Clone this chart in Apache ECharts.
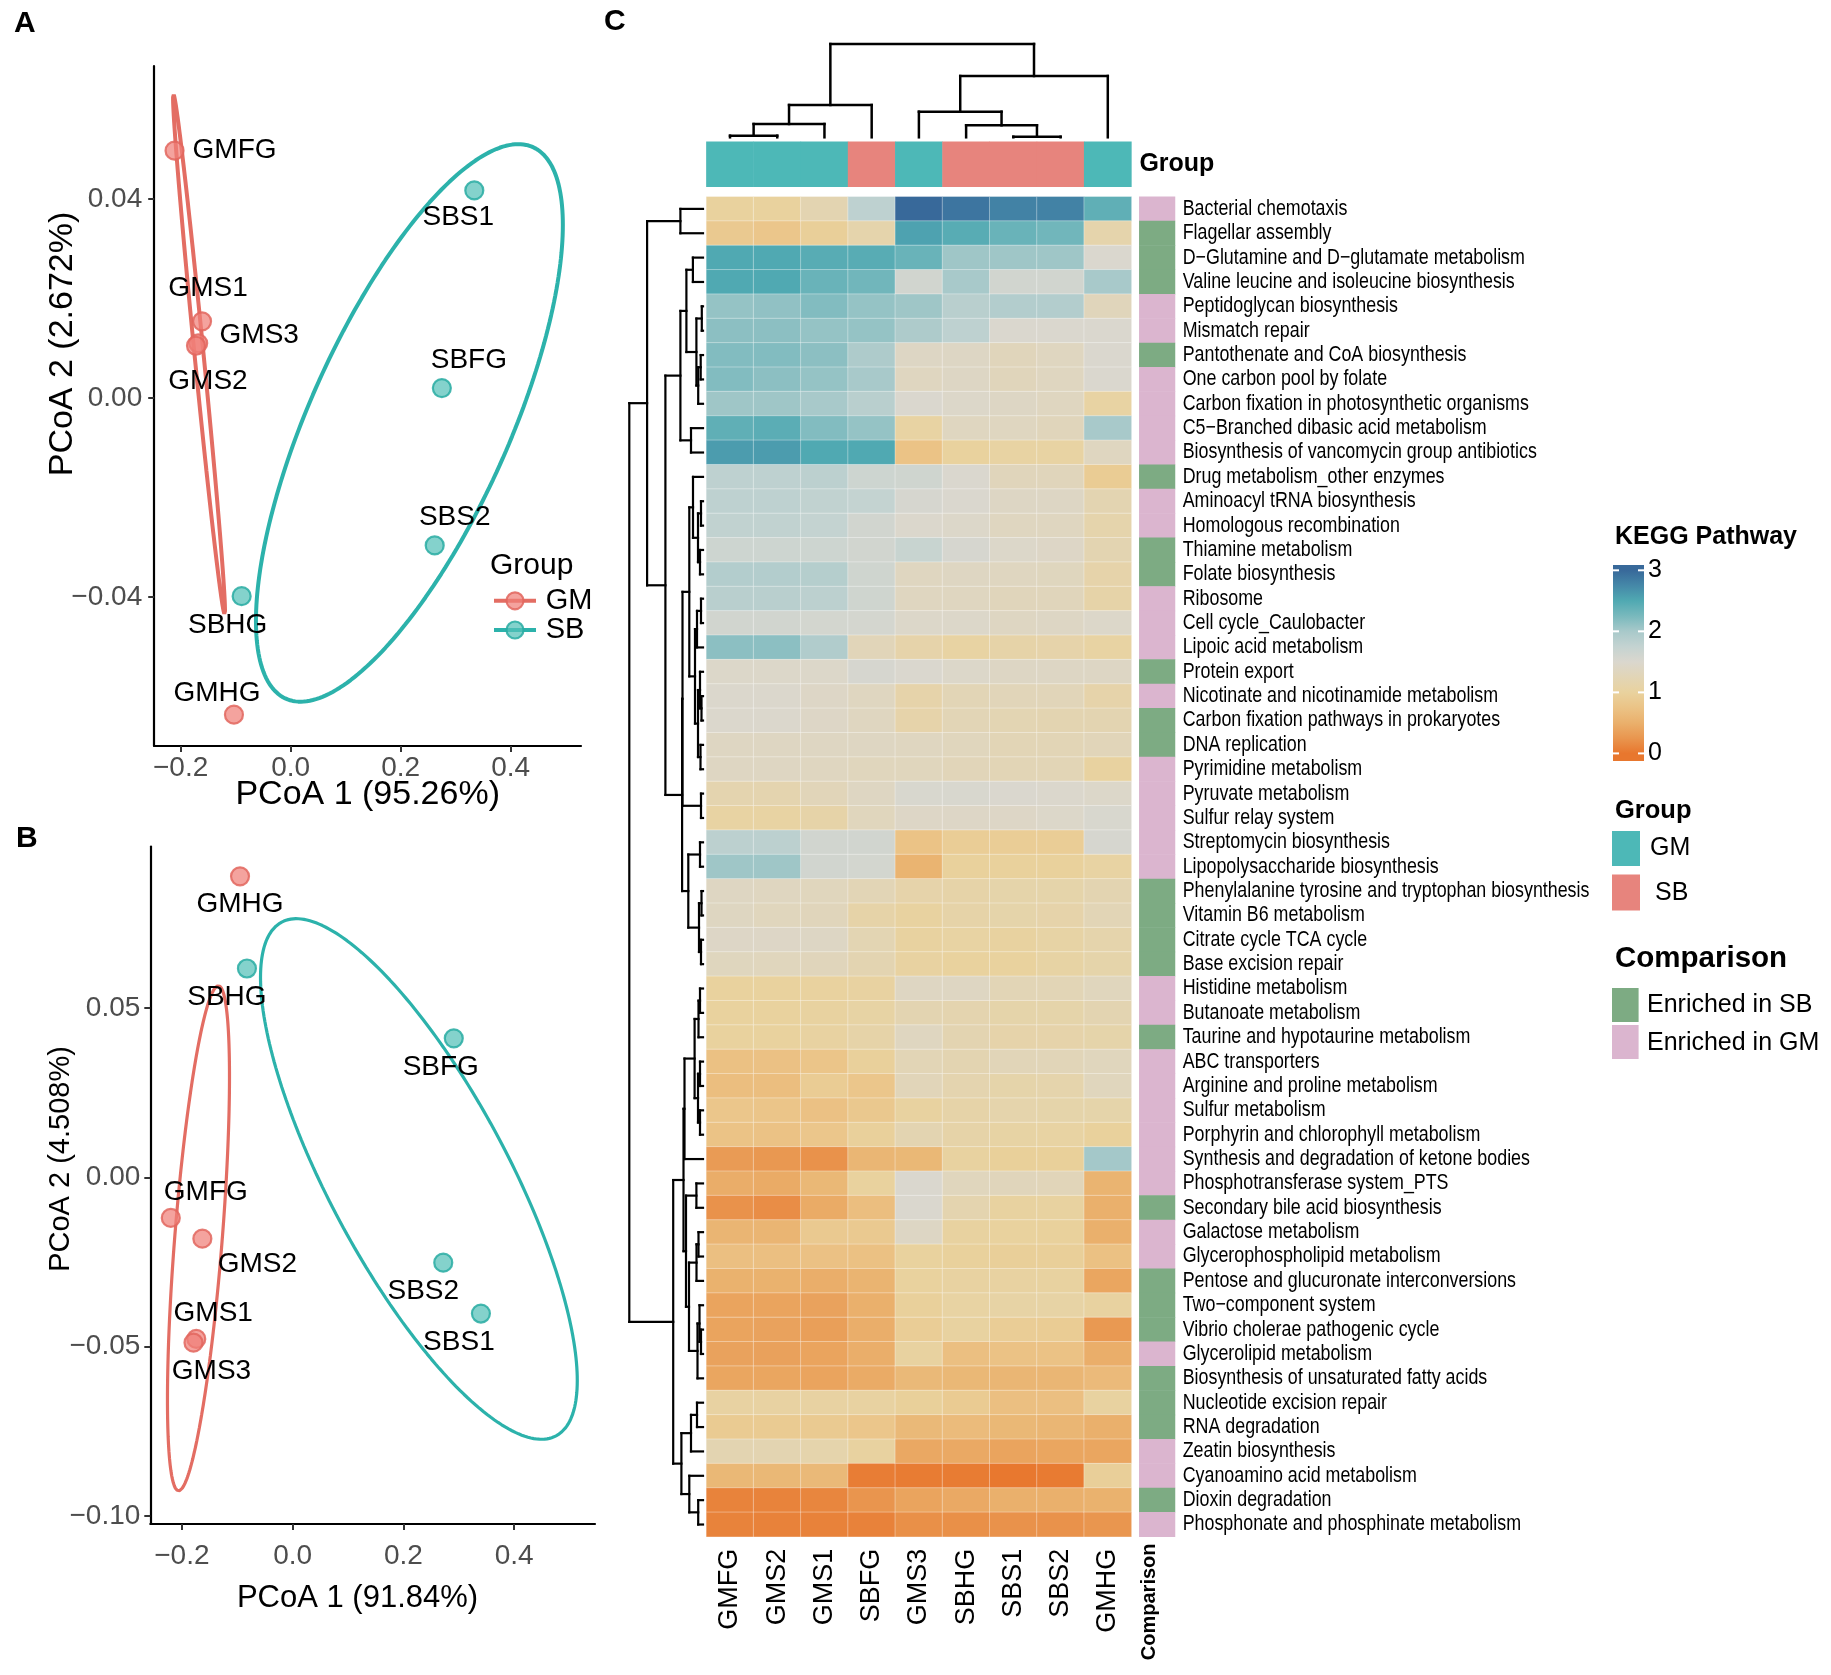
<!DOCTYPE html>
<html><head><meta charset="utf-8">
<script src="https://cdn.jsdelivr.net/npm/echarts@6/dist/echarts.min.js"></script>
<style>html,body{margin:0;padding:0;background:#fff}#c{width:1831px;height:1675px}</style>
</head><body><div id="c"></div>
<script>
// ================= DATA =================
// Panel A (PCoA)
const samplesA = ['GMFG','GMS1','GMS3','GMS2','GMHG','SBS1','SBFG','SBS2','SBHG'];
const groupA   = ['GM','GM','GM','GM','GM','SB','SB','SB','SB'];
const pcoa1A   = [-0.211,-0.161,-0.168,-0.172,-0.103,0.334,0.275,0.262,-0.089];
const pcoa2A   = [0.0497,0.0154,0.0110,0.0105,-0.0636,0.0417,0.0020,-0.0296,-0.0398];
// Panel B (PCoA)
const samplesB = ['GMHG','SBHG','SBFG','GMFG','GMS2','GMS1','GMS3','SBS2','SBS1'];
const groupB   = ['GM','SB','SB','GM','GM','GM','GM','SB','SB'];
const pcoa1B   = [-0.095,-0.0825,0.291,-0.220,-0.163,-0.174,-0.179,0.272,0.340];
const pcoa2B   = [0.0888,0.0616,0.041,-0.012,-0.0181,-0.0477,-0.0488,-0.0252,-0.0402];
// Confidence ellipses: [centre x, centre y, half-extent x, half-extent y, correlation]
const ellipseA_GM = [-0.1665,0.0088,0.0472,0.0522,-0.9846];
const ellipseA_SB = [0.216,-0.005,0.279,0.056,0.71];
const ellipseB_GM = [-0.170,-0.018,0.056,0.0745,0.64];
const ellipseB_SB = [0.228,-0.0005,0.286,0.0768,-0.774];
const ticksA_x = [-0.2,0,0.2,0.4], ticksA_y = [-0.04,0,0.04];
const ticksB_x = [-0.2,0,0.2,0.4], ticksB_y = [-0.10,-0.05,0,0.05];

// Panel C (heatmap)
const colNames = ['GMFG','GMS2','GMS1','SBFG','GMS3','SBHG','SBS1','SBS2','GMHG'];
const colGroup = ['GM','GM','GM','SB','GM','SB','SB','SB','GM'];
const rowNames = ['Bacterial chemotaxis','Flagellar assembly','D\u2212Glutamine and D\u2212glutamate metabolism','Valine leucine and isoleucine biosynthesis','Peptidoglycan biosynthesis','Mismatch repair','Pantothenate and CoA biosynthesis','One carbon pool by folate','Carbon fixation in photosynthetic organisms','C5\u2212Branched dibasic acid metabolism','Biosynthesis of vancomycin group antibiotics','Drug metabolism_other enzymes','Aminoacyl tRNA biosynthesis','Homologous recombination','Thiamine metabolism','Folate biosynthesis','Ribosome','Cell cycle_Caulobacter','Lipoic acid metabolism','Protein export','Nicotinate and nicotinamide metabolism','Carbon fixation pathways in prokaryotes','DNA replication','Pyrimidine metabolism','Pyruvate metabolism','Sulfur relay system','Streptomycin biosynthesis','Lipopolysaccharide biosynthesis','Phenylalanine tyrosine and tryptophan biosynthesis','Vitamin B6 metabolism','Citrate cycle TCA cycle','Base excision repair','Histidine metabolism','Butanoate metabolism','Taurine and hypotaurine metabolism','ABC transporters','Arginine and proline metabolism','Sulfur metabolism','Porphyrin and chlorophyll metabolism','Synthesis and degradation of ketone bodies','Phosphotransferase system_PTS','Secondary bile acid biosynthesis','Galactose metabolism','Glycerophospholipid metabolism','Pentose and glucuronate interconversions','Two\u2212component system','Vibrio cholerae pathogenic cycle','Glycerolipid metabolism','Biosynthesis of unsaturated fatty acids','Nucleotide excision repair','RNA degradation','Zeatin biosynthesis','Cyanoamino acid metabolism','Dioxin degradation','Phosphonate and phosphinate metabolism'];
const comparison = ['GM','SB','SB','SB','GM','GM','SB','GM','GM','GM','GM','SB','GM','GM','SB','SB','GM','GM','GM','SB','GM','SB','SB','GM','GM','GM','GM','GM','SB','SB','SB','SB','GM','GM','SB','GM','GM','GM','GM','GM','GM','SB','GM','GM','SB','SB','SB','GM','SB','SB','SB','GM','GM','SB','GM'];
const valGMFG = [1.0,0.85,2.5,2.5,2.1,2.15,2.2,2.2,2.05,2.4,2.6,1.8,1.8,1.78,1.65,1.9,1.85,1.6,2.15,1.45,1.48,1.48,1.38,1.38,1.18,1.05,1.82,2.05,1.38,1.36,1.42,1.33,1.0,1.0,1.0,0.72,0.68,0.8,0.75,0.3,0.47,0.22,0.57,0.7,0.52,0.38,0.38,0.37,0.4,1.04,0.88,1.2,0.6,0.1,0.1];
const valGMS2 = [1.0,0.8,2.5,2.5,2.12,2.15,2.2,2.15,2.05,2.43,2.6,1.8,1.8,1.78,1.65,1.9,1.85,1.6,2.15,1.45,1.48,1.48,1.38,1.37,1.18,1.05,1.82,2.05,1.35,1.32,1.42,1.32,1.0,1.0,1.0,0.73,0.68,0.78,0.74,0.27,0.45,0.18,0.57,0.7,0.52,0.38,0.37,0.36,0.4,1.04,0.88,1.2,0.6,0.1,0.09];
const valGMS1 = [1.2,0.95,2.45,2.35,2.2,2.1,2.15,2.1,2.0,2.2,2.5,1.82,1.78,1.75,1.65,1.88,1.82,1.58,1.92,1.45,1.42,1.42,1.38,1.35,1.28,1.1,1.6,1.6,1.32,1.3,1.4,1.3,1.01,1.02,1.03,0.78,0.9,0.73,0.8,0.22,0.6,0.45,0.85,0.73,0.48,0.37,0.34,0.38,0.38,1.04,0.86,1.15,0.62,0.12,0.09];
const valSBFG = [1.8,1.15,2.45,2.3,2.1,2.1,1.95,2.0,1.85,2.1,2.5,1.65,1.75,1.6,1.6,1.62,1.62,1.57,1.28,1.55,1.35,1.35,1.38,1.32,1.38,1.32,1.6,1.58,1.25,1.1,1.22,1.2,1.03,1.06,1.1,0.97,0.8,0.83,0.97,0.58,1.0,0.68,0.85,0.72,0.55,0.5,0.48,0.48,0.45,1.03,0.8,1.02,0.05,0.24,0.09];
const valGMS3 = [3.0,2.55,2.35,1.6,2.05,1.95,1.4,1.35,1.5,1.05,0.75,1.62,1.55,1.48,1.7,1.35,1.35,1.45,1.12,1.5,1.12,1.12,1.35,1.32,1.52,1.42,0.75,0.55,1.12,1.02,1.02,1.03,1.38,1.2,1.35,1.25,1.28,1.02,1.2,0.6,1.5,1.5,1.4,1.0,1.0,0.97,0.92,1.02,0.62,0.96,0.62,0.42,0.04,0.38,0.2];
const valSBHG = [2.9,2.45,2.05,2.0,1.85,1.8,1.4,1.4,1.45,1.35,1.0,1.5,1.5,1.45,1.55,1.38,1.35,1.45,1.05,1.45,1.25,1.25,1.32,1.28,1.52,1.42,0.92,0.98,1.1,1.1,1.05,1.0,1.38,1.18,1.2,1.2,1.18,1.1,1.1,1.02,1.32,1.18,1.02,0.98,1.03,1.05,1.02,0.7,0.6,0.88,0.64,0.43,0.04,0.43,0.2];
const valSBS1 = [2.8,2.35,2.05,1.6,1.9,1.5,1.3,1.3,1.4,1.35,1.05,1.3,1.4,1.35,1.45,1.35,1.3,1.38,1.1,1.4,1.28,1.22,1.25,1.25,1.5,1.42,0.92,0.98,1.13,1.13,1.02,1.0,1.25,1.13,1.12,1.27,1.13,1.15,1.06,0.96,1.3,1.02,1.0,0.95,1.03,1.07,0.92,0.74,0.58,0.7,0.6,0.38,0.01,0.5,0.22];
const valSBS2 = [2.8,2.3,2.05,1.6,1.9,1.5,1.35,1.35,1.35,1.3,1.05,1.3,1.4,1.35,1.42,1.33,1.3,1.4,1.12,1.4,1.28,1.2,1.25,1.25,1.48,1.45,0.92,0.98,1.13,1.12,1.07,1.06,1.25,1.13,1.12,1.27,1.15,1.13,1.05,0.96,1.28,1.02,0.98,0.95,1.02,1.07,0.9,0.74,0.58,0.7,0.58,0.4,0.03,0.5,0.22];
const valGMHG = [2.4,1.15,1.5,2.0,1.3,1.5,1.5,1.5,1.05,2.0,1.35,0.9,1.2,1.15,1.2,1.12,1.1,1.45,1.05,1.4,1.12,1.2,1.28,1.02,1.45,1.52,1.55,1.05,1.2,1.25,1.15,1.13,1.32,1.2,1.13,1.32,1.32,1.13,0.98,2.02,0.55,0.5,0.5,0.72,0.4,1.02,0.28,0.48,0.63,1.02,0.5,0.4,0.95,0.52,0.25];
const legendTicks = [0,1,2,3];

// Dendrograms: [left, right, merge height]; leaves are 1-based column / row numbers
const colTree = [[[[1,2,1.6],3,13.3],4,32.3],[[5,[6,[7,8,0.6],12],25.6],9,61.3],93.3];
const rowN12   = [1,2,22.6];
const rowC3_11 = [[[3,4,10.1],[[5,6,1.2],[[7,8,2.3],9,4.8],6.6],16.6],[10,11,12],22.6];
const rowU1    = [[12,[[13,14,2],[15,16,3],5],10],[[[17,18,2],19,6],[[20,[21,22,1.5],3],[23,24,2.5],5],8],13.7];
const rowLup   = [rowU1,[25,26,2],20.5];
const rowLdn   = [[27,28,3],[[29,30,1.5],[31,32,2],4],14.7];
const rowTop   = [rowN12,[rowC3_11,[rowLup,rowLdn,20.9],37.6],55.9];
const rowP     = [[[[[33,34,3],35,4.5],[[36,37,3],[38,39,3],5],8.4],40,18.5],[[41,42,6.6],[[[43,44,4.5],45,6.5],[[46,[47,48,2],3.5],49,5.5],14],17],19.5];
const rowQ     = [[[50,51,6],52,12],[53,[54,55,4.8],13.7],21.6];
const rowTree  = [rowTop,[rowP,rowQ,29.8],73.7];

// ================= STYLE / LAYOUT =================
const FONT = "'Liberation Sans', Arial, Helvetica, sans-serif";
const palette = ['#E8772E','#E9964F','#EAB06C','#EBC386','#E9D29E','#E2D5B6','#DAD7CE','#C4D3D1','#A8C9CA','#79B9BD','#50A9B2','#4588A8','#38699A'];
const RED_LINE='#E36D63', TEAL_LINE='#2CB2AB';
const RED_FILL='rgba(240,128,120,0.72)', RED_STROKE='rgba(226,102,94,0.85)';
const TEAL_FILL='rgba(84,192,184,0.72)', TEAL_STROKE='rgba(40,172,162,0.85)';
const GROUP_COL = {GM:'#4DB8B7', SB:'#E7847D'};
const COMP_COL = {SB:'#7DAB83', GM:'#DBB5CF'};
const labelOffA = [[60,0],[6,-33],[61,-8],[12,36],[-17,-21],[-16,27],[27,-28],[20,-28],[-14,29]];
const labelOffB = [[0,28],[-20,29],[-13,29],[35,-26],[55,26],[17,-26],[18,29],[-20,29],[-22,29]];
const ROWSIZE = 21.5, ROWSCALE = 0.83, ROWLABEL_X = 1182.7;

// ================= HELPERS =================
function ellipsePts(e){
  const [cx,cy,rx,ry,r]=e, s=Math.sqrt(1-r*r), pts=[];
  for(let i=0;i<=240;i++){const t=i/240*2*Math.PI;
    pts.push([cx+rx*Math.cos(t), cy+ry*(r*Math.cos(t)+s*Math.sin(t))]);}
  return pts;
}
function dendro(tree, segs){
  if(!Array.isArray(tree)) return {p:tree-0.5, h:0};
  const a=dendro(tree[0],segs), b=dendro(tree[1],segs), h=tree[2];
  segs.push([a.p,a.h,a.p,h]); segs.push([b.p,b.h,b.p,h]); segs.push([a.p,h,b.p,h]);
  return {p:(a.p+b.p)/2, h:h};
}
const minus = s => s.replace('-', '\u2212');
const fmt1 = v => minus((+v).toFixed(1));
const fmt2 = v => minus((+v).toFixed(2));

function scatter(gi, samples, groups, xs, ys, offs, grp){
  const data=[];
  samples.forEach((s,i)=>{ if(groups[i]!==grp) return;
    data.push({value:[xs[i],ys[i]], name:s, label:{offset:offs[i]}}); });
  return {type:'scatter', xAxisIndex:gi, yAxisIndex:gi, data, symbolSize:18, z:5,
    itemStyle:{color: grp==='GM'?RED_FILL:TEAL_FILL, borderColor: grp==='GM'?RED_STROKE:TEAL_STROKE, borderWidth:2.2, opacity:1},
    label:{show:true, position:'inside', formatter:'{b}', fontSize:28, color:'#000', fontFamily:FONT},
    emphasis:{disabled:true}};
}
function ellipse(gi, e, color, w){
  return {type:'line', xAxisIndex:gi, yAxisIndex:gi, data:ellipsePts(e), showSymbol:false, symbol:'none',
    lineStyle:{color, width:w}, z:3, silent:true, clip:false};
}
function valueAxis(gi, min, max, ticks, fmt, margin){
  return {gridIndex:gi, type:'value', min, max, splitLine:{show:false},
    axisLine:{show:true, onZero:false, lineStyle:{color:'#000', width:2.2}},
    axisTick:{show:true, customValues:ticks, length:6, lineStyle:{color:'#333', width:2}},
    axisLabel:{customValues:ticks, formatter:fmt, fontSize:28, color:'#4D4D4D', margin, fontFamily:FONT}};
}
function hiddenAxis(gi, extra){
  return Object.assign({gridIndex:gi, axisLine:{show:false}, axisTick:{show:false}, axisLabel:{show:false}, splitLine:{show:false}}, extra);
}
function text(x,y,t,size,opt){
  opt=opt||{};
  const el = {type:'text', x, y, rotation:opt.rot||0, z:10, silent:true,
    style:{text:t, fontSize:size, fontFamily:opt.family||FONT, fontWeight:opt.bold?'bold':'normal',
      fill:opt.color||'#000', align:opt.align||'left', verticalAlign:opt.va||'middle'}};
  if(opt.scaleX) el.scaleX = opt.scaleX;
  return el;
}
function lineRender(w){
  return function(params, api){
    const p1=api.coord([api.value(0),api.value(1)]), p2=api.coord([api.value(2),api.value(3)]);
    return {type:'line', shape:{x1:p1[0],y1:p1[1],x2:p2[0],y2:p2[1]}, style:{stroke:'#000', lineWidth:w, lineCap:'square'}};
  };
}

// ================= BUILD =================
const colVals = [valGMFG,valGMS2,valGMS1,valSBFG,valGMS3,valSBHG,valSBS1,valSBS2,valGMHG];
const heatData=[];
colVals.forEach((arr,c)=>arr.forEach((v,r)=>heatData.push([c,r,v])));
const groupData = colGroup.map((g,c)=>({value:[c,0,1], itemStyle:{color:GROUP_COL[g]}}));
const compData = comparison.map((g,r)=>({value:[0,r,1], itemStyle:{color:COMP_COL[g]}}));
const colSegs=[]; dendro(colTree,colSegs);
const rowSegsRaw=[]; dendro(rowTree,rowSegsRaw);
const rowSegs=rowSegsRaw.map(s=>[s[1],s[0],s[3],s[2]]);

const grids = [
  {left:154.2, top:66, width:426.8, height:680},      // 0 A
  {left:150.3, top:846.5, width:444.7, height:677.5}, // 1 B
  {left:706.4, top:44, width:425, height:93.3},       // 2 col dendrogram
  {left:706.4, top:141.7, width:425, height:45},      // 3 group bar
  {left:706.4, top:196.7, width:425, height:1340},    // 4 heatmap
  {left:1139.3, top:196.7, width:35.7, height:1340},  // 5 comparison
  {left:625, top:196.7, width:78, height:1340}        // 6 row dendrogram
];
const xAxes = [
  valueAxis(0,-0.248,0.528,ticksA_x,fmt1,8),
  valueAxis(1,-0.257,0.546,ticksB_x,fmt1,18),
  hiddenAxis(2,{type:'value',min:0,max:colNames.length}),
  hiddenAxis(3,{type:'category',data:colNames}),
  {gridIndex:4,type:'category',data:colNames,axisLine:{show:false},axisTick:{show:false},splitLine:{show:false},
    axisLabel:{rotate:90,interval:0,fontSize:27,color:'#000',margin:12,fontFamily:FONT}},
  hiddenAxis(5,{type:'category',data:['Comparison']}),
  hiddenAxis(6,{type:'value',min:0,max:78,inverse:true})
];
const yAxes = [
  valueAxis(0,-0.0699,0.0667,ticksA_y,fmt2,12),
  valueAxis(1,-0.1023,0.0976,ticksB_y,fmt2,10),
  hiddenAxis(2,{type:'value',min:0,max:93.3}),
  {gridIndex:3,type:'category',data:['Group'],position:'right',axisLine:{show:false},axisTick:{show:false},splitLine:{show:false},
    axisLabel:{fontSize:25,fontWeight:'bold',color:'#000',margin:8,fontFamily:FONT}},
  hiddenAxis(4,{type:'category',data:rowNames,inverse:true}),
  hiddenAxis(5,{type:'category',data:rowNames,inverse:true}),
  hiddenAxis(6,{type:'value',min:0,max:rowNames.length,inverse:true})
];

const series = [
  ellipse(0,ellipseA_GM,RED_LINE,4), ellipse(0,ellipseA_SB,TEAL_LINE,4),
  scatter(0,samplesA,groupA,pcoa1A,pcoa2A,labelOffA,'GM'), scatter(0,samplesA,groupA,pcoa1A,pcoa2A,labelOffA,'SB'),
  ellipse(1,ellipseB_GM,RED_LINE,3.2), ellipse(1,ellipseB_SB,TEAL_LINE,3.2),
  scatter(1,samplesB,groupB,pcoa1B,pcoa2B,labelOffB,'GM'), scatter(1,samplesB,groupB,pcoa1B,pcoa2B,labelOffB,'SB'),
  {type:'custom', xAxisIndex:2, yAxisIndex:2, data:colSegs, renderItem:lineRender(2.5), silent:true, clip:false},
  {type:'heatmap', xAxisIndex:3, yAxisIndex:3, data:groupData, silent:true},
  {type:'heatmap', xAxisIndex:4, yAxisIndex:4, data:heatData, silent:true,
    itemStyle:{borderColor:'rgba(255,255,255,0.35)', borderWidth:1}},
  {type:'heatmap', xAxisIndex:5, yAxisIndex:5, data:compData, silent:true},
  {type:'custom', xAxisIndex:6, yAxisIndex:6, data:rowSegs, renderItem:lineRender(2.2), silent:true, clip:false}
];
const MAIN_IDX = 10;

// legend gradient for the KEGG scale
const LEG_TOP=565, LEG_H=196, LEG_X=1613, LEG_W=31, V0=753.4, PER=61.03;
const yOf = v => V0 - v*PER;
const stops = palette.map((c,i)=>({offset: Math.min(1,Math.max(0,(yOf(i*3/(palette.length-1))-LEG_TOP)/LEG_H)), color:c})).reverse();
const graphics = [
  text(14,24,'A',30,{bold:true}), text(16,839,'B',30,{bold:true}), text(604,22,'C',30,{bold:true}),
  text(367.7,795,'PCoA 1 (95.26%)',34,{align:'center'}),
  text(63,344,'PCoA 2 (2.672%)',34,{align:'center',rot:Math.PI/2}),
  text(357.5,1598,'PCoA 1 (91.84%)',31,{align:'center'}),
  text(61,1159,'PCoA 2 (4.508%)',29,{align:'center',rot:Math.PI/2}),
  text(490,566,'Group',30),
  {type:'line',shape:{x1:494,y1:600.8,x2:536,y2:600.8},style:{stroke:RED_LINE,lineWidth:4},z:9},
  {type:'circle',shape:{cx:515,cy:600.8,r:8.5},style:{fill:RED_FILL,stroke:RED_STROKE,lineWidth:2.2},z:10},
  text(545.7,600.8,'GM',29),
  {type:'line',shape:{x1:494,y1:630,x2:536,y2:630},style:{stroke:TEAL_LINE,lineWidth:4},z:9},
  {type:'circle',shape:{cx:515,cy:630,r:8.5},style:{fill:TEAL_FILL,stroke:TEAL_STROKE,lineWidth:2.2},z:10},
  text(545.7,630,'SB',29),
  text(1149,1543.5,'Comparison',20,{bold:true,align:'right',rot:Math.PI/2}),
  text(1615,537,'KEGG Pathway',25,{bold:true}),
  {type:'rect',shape:{x:LEG_X,y:LEG_TOP,width:LEG_W,height:LEG_H},style:{fill:new echarts.graphic.LinearGradient(0,0,0,1,stops)},z:9},
  text(1615,810.8,'Group',25.5,{bold:true}),
  {type:'rect',shape:{x:1612,y:831,width:28,height:35},style:{fill:GROUP_COL.GM},z:9},
  {type:'rect',shape:{x:1612,y:874.5,width:28,height:36},style:{fill:GROUP_COL.SB},z:9},
  text(1650,848.5,'GM',25), text(1655,893,'SB',25),
  text(1615,958.7,'Comparison',29.5,{bold:true}),
  {type:'rect',shape:{x:1612,y:988,width:26.6,height:34},style:{fill:COMP_COL.SB},z:9},
  {type:'rect',shape:{x:1612,y:1025,width:26.6,height:34},style:{fill:COMP_COL.GM},z:9},
  text(1647,1005,'Enriched in SB',25), text(1647,1043,'Enriched in GM',25)
];
legendTicks.forEach(v=>{
  const y=yOf(v);
  graphics.push({type:'line',shape:{x1:LEG_X,y1:y,x2:LEG_X+6,y2:y},style:{stroke:'#fff',lineWidth:2},z:11});
  graphics.push({type:'line',shape:{x1:LEG_X+LEG_W-6,y1:y,x2:LEG_X+LEG_W,y2:y},style:{stroke:'#fff',lineWidth:2},z:11});
  graphics.push(text(1648,y,String(v),25));
});

const chart = echarts.init(document.getElementById('c'), null, {renderer:'canvas', width:1831, height:1675});
chart.setOption({
  backgroundColor:'#fff', animation:false,
  grid:grids, xAxis:xAxes, yAxis:yAxes, series,
  visualMap:{type:'continuous', show:false, min:0, max:3, seriesIndex:MAIN_IDX, inRange:{color:palette}}
});
// pathway labels (condensed, as in the original) placed at the row positions of the comparison axis
rowNames.forEach((n,i)=>{
  const y = chart.convertToPixel({yAxisIndex:5}, i);
  graphics.push(text(ROWLABEL_X, y, n, ROWSIZE, {scaleX:ROWSCALE}));
});
chart.setOption({graphic:graphics});
</script></body></html>
